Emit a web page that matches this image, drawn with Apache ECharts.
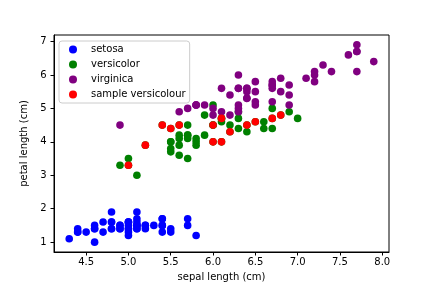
<!DOCTYPE html>
<html>
<head>
<meta charset="utf-8">
<script src="https://cdn.jsdelivr.net/npm/echarts@6/dist/echarts.min.js"></script>
<style>html,body{margin:0;padding:0;background:#fff}#c{width:432px;height:288px}</style>
</head>
<body>
<div id="c"></div>
<script>
// [sepal length, petal length]
const setosa = [[5.1,1.4],[4.9,1.4],[4.7,1.3],[4.6,1.5],[5.0,1.4],[5.4,1.7],[4.6,1.4],[5.0,1.5],[4.4,1.4],[4.9,1.5],
[5.4,1.5],[4.8,1.6],[4.8,1.4],[4.3,1.1],[5.8,1.2],[5.7,1.5],[5.4,1.3],[5.1,1.4],[5.7,1.7],[5.1,1.5],
[5.4,1.7],[5.1,1.5],[4.6,1.0],[5.1,1.7],[4.8,1.9],[5.0,1.6],[5.0,1.6],[5.2,1.5],[5.2,1.4],[4.7,1.6],
[4.8,1.6],[5.4,1.5],[5.2,1.5],[5.5,1.4],[4.9,1.5],[5.0,1.2],[5.5,1.3],[4.9,1.4],[4.4,1.3],[5.1,1.5],
[5.0,1.3],[4.5,1.3],[4.4,1.3],[5.0,1.6],[5.1,1.9],[4.8,1.4],[5.1,1.6],[4.6,1.4],[5.3,1.5],[5.0,1.4]];
const versicolor = [[7.0,4.7],[6.4,4.5],[6.9,4.9],[5.5,4.0],[6.5,4.6],[5.7,4.5],[6.3,4.7],[4.9,3.3],[6.6,4.6],[5.2,3.9],
[5.0,3.5],[5.9,4.2],[6.0,4.0],[6.1,4.7],[5.6,3.6],[6.7,4.4],[5.6,4.5],[5.8,4.1],[6.2,4.5],[5.6,3.9],
[5.9,4.8],[6.1,4.0],[6.3,4.9],[6.1,4.7],[6.4,4.3],[6.6,4.4],[6.8,4.8],[6.7,5.0],[6.0,4.5],[5.7,3.5],
[5.5,3.8],[5.5,3.7],[5.8,3.9],[6.0,5.1],[5.4,4.5],[6.0,4.5],[6.7,4.7],[6.3,4.4],[5.6,4.1],[5.5,4.0],
[5.5,4.4],[6.1,4.6],[5.8,4.0],[5.0,3.3],[5.6,4.2],[5.7,4.2],[5.7,4.2],[6.2,4.3],[5.1,3.0],[5.7,4.1]];
const virginica = [[6.3,6.0],[5.8,5.1],[7.1,5.9],[6.3,5.6],[6.5,5.8],[7.6,6.6],[4.9,4.5],[7.3,6.3],[6.7,5.8],[7.2,6.1],
[6.5,5.1],[6.4,5.3],[6.8,5.5],[5.7,5.0],[5.8,5.1],[6.4,5.3],[6.5,5.5],[7.7,6.7],[7.7,6.9],[6.0,5.0],
[6.9,5.7],[5.6,4.9],[7.7,6.7],[6.3,4.9],[6.7,5.7],[7.2,6.0],[6.2,4.8],[6.1,4.9],[6.4,5.6],[7.2,5.8],
[7.4,6.1],[7.9,6.4],[6.4,5.6],[6.3,5.1],[6.1,5.6],[7.7,6.1],[6.3,5.6],[6.4,5.5],[6.0,4.8],[6.9,5.4],
[6.7,5.6],[6.9,5.1],[5.8,5.1],[6.8,5.9],[6.7,5.7],[6.7,5.2],[6.3,5.0],[6.5,5.2],[6.2,5.4],[5.9,5.1]];
const sampleVersicolour = [[5.0,3.3],[5.2,3.9],[5.4,4.5],[5.5,4.4],[5.6,4.5],[6.0,4.0],[6.1,4.0],[6.0,4.5],
[6.1,4.7],[6.2,4.3],[6.4,4.5],[6.5,4.6],[6.7,4.7],[6.8,4.8]];
const xTicks = [4.5,5.0,5.5,6.0,6.5,7.0,7.5,8.0];
const yTicks = [1,2,3,4,5,6,7];

const FONT = 'DejaVu Sans';
const chart = echarts.init(document.getElementById('c'), null, {renderer:'canvas'});
function mk(name, data, color){
  return {name, type:'scatter', data, symbol:'circle', symbolSize:7.6,
    itemStyle:{color, opacity:1}, emphasis:{disabled:true}, animation:false};
}
chart.setOption({
  animation:false,
  grid:{left:54, right:43, top:35, bottom:36, show:true, borderColor:'#000', borderWidth:1, containLabel:false},
  legend:{
    orient:'vertical', left:59, top:41,
    padding:[2.5,4,2.5,10], itemGap:3, itemWidth:8, itemHeight:8,
    backgroundColor:'rgba(255,255,255,0.8)', borderColor:'#cccccc', borderWidth:1, borderRadius:3,
    textStyle:{fontFamily:FONT, fontSize:10, color:'#000', lineHeight:12, padding:[0,0,0,9]},
    data:[{name:'setosa',icon:'circle'},{name:'versicolor',icon:'circle'},{name:'virginica',icon:'circle'},{name:'sample versicolour',icon:'circle'}],
    selectedMode:false
  },
  xAxis:{
    type:'value', min:4.12, max:8.08,
    name:'sepal length (cm)', nameLocation:'middle', nameGap:19,
    nameTextStyle:{fontFamily:FONT, fontSize:10, color:'#000'},
    axisLine:{show:true, lineStyle:{color:'#000', width:1}},
    axisTick:{show:true, inside:false, length:3.5, lineStyle:{color:'#000', width:1}, customValues:xTicks},
    axisLabel:{fontFamily:FONT, fontSize:10, color:'#000', margin:5.5, customValues:xTicks,
      formatter:v=>v.toFixed(1)},
    splitLine:{show:false}
  },
  yAxis:{
    type:'value', min:0.705, max:7.195,
    name:'petal length (cm)', nameLocation:'middle', nameGap:16, nameRotate:90,
    nameTextStyle:{fontFamily:FONT, fontSize:10, color:'#000'},
    axisLine:{show:true, lineStyle:{color:'#000', width:1}},
    axisTick:{show:true, inside:false, length:3.5, lineStyle:{color:'#000', width:1}, customValues:yTicks},
    axisLabel:{fontFamily:FONT, fontSize:10, color:'#000', margin:7.5, customValues:yTicks,
      formatter:v=>String(Math.round(v))},
    splitLine:{show:false}
  },
  series:[
    mk('setosa', setosa, '#0000ff'),
    mk('versicolor', versicolor, '#008000'),
    mk('virginica', virginica, '#800080'),
    mk('sample versicolour', sampleVersicolour, '#ff0000')
  ]
});
</script>
</body>
</html>
